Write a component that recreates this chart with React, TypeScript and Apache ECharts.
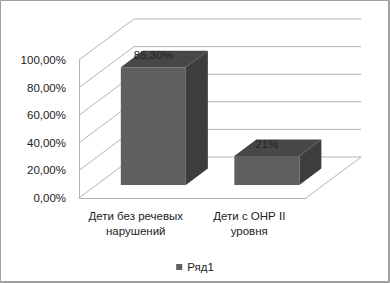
import React, { useEffect, useRef } from "react";
import * as echarts from "echarts";

const categories = ["Дети без речевых\nнарушений", "Дети с ОНР II\nуровня"];
const seriesName = "Ряд1";
const values = [0.853, 0.21];
const valueLabels = ["85,30%", "21%"];
const yTicks = [0, 0.2, 0.4, 0.6, 0.8, 1];

const FONT = "'Liberation Sans', Arial, sans-serif";
const DX = 55;
const DY = 41;
const F1 = 0.32;
const F2 = 0.72;
const GRID_COLOR = "#b3b3b3";

export default function App() {
  const ref = useRef<HTMLDivElement>(null);
  useEffect(() => {
    if (!ref.current) return;
    const chart = echarts.init(ref.current, null, { renderer: "svg" });
    chart.setOption({
      animation: false,
      backgroundColor: "#ffffff",
      textStyle: { fontFamily: FONT },
      grid: { left: 79, top: 60, width: 227, height: 138, containLabel: false },
      legend: {
        data: [seriesName],
        left: "center",
        top: 256,
        icon: "rect",
        itemWidth: 6,
        itemHeight: 6,
        itemGap: 6,
        textStyle: { fontFamily: FONT, fontSize: 11.5, color: "#222" },
      },
      graphic: [
        {
          type: "rect",
          shape: { x: 0.5, y: 0.5, width: 388, height: 281 },
          style: { fill: "none", stroke: "#a0a0a0", lineWidth: 1 },
          silent: true,
        },
        {
          type: "polyline",
          shape: { points: [[389.5, 0], [389.5, 282.5], [0, 282.5]] },
          style: { fill: "none", stroke: "#a0a0a0", lineWidth: 1 },
          silent: true,
        },
      ],
      xAxis: {
        type: "category",
        data: categories,
        axisLine: { show: true, lineStyle: { color: GRID_COLOR, width: 1 } },
        axisTick: { show: false },
        axisLabel: {
          margin: 10,
          fontFamily: FONT,
          fontSize: 11.5,
          lineHeight: 15,
          color: "#222",
          interval: 0,
        },
        splitLine: { show: false },
      },
      yAxis: {
        type: "value",
        min: 0,
        max: 1,
        interval: 0.2,
        axisLine: { show: true, lineStyle: { color: GRID_COLOR, width: 1 } },
        axisTick: { show: false },
        splitLine: { show: false },
        axisLabel: {
          margin: 13,
          fontFamily: FONT,
          fontSize: 11.5,
          color: "#222",
          formatter: (v: number) => (v * 100).toFixed(2).replace(".", ",") + "%",
        },
      },
      series: [
        {
          type: "custom",
          clip: false,
          silent: true,
          z: 1,
          data: yTicks.map((v) => [0, v]),
          encode: { x: 0, y: 1 },
          renderItem: (params: any, api: any) => {
            const cs = params.coordSys;
            const left = cs.x;
            const right = cs.x + cs.width;
            const v = api.value(1);
            const y = api.coord([0, v])[1];
            const style = { stroke: GRID_COLOR, lineWidth: 1, fill: "none" };
            const children: any[] = [
              {
                type: "line",
                shape: { x1: left, y1: y, x2: left + DX, y2: y - DY },
                style,
              },
              {
                type: "line",
                shape: { x1: left + DX, y1: y - DY, x2: right + DX, y2: y - DY },
                style,
              },
            ];
            if (v === 0) {
              children.push({
                type: "line",
                shape: { x1: right, y1: y, x2: right + DX, y2: y - DY },
                style,
              });
            }
            return { type: "group", children };
          },
        },
        {
          type: "custom",
          name: seriesName,
          clip: false,
          z: 2,
          itemStyle: { color: "#5f5f5f" },
          data: values.map((v, i) => [i, v]),
          encode: { x: 0, y: 1 },
          renderItem: (params: any, api: any) => {
            const idx = api.value(0);
            const val = api.value(1);
            const base = api.coord([idx, 0]);
            const top = api.coord([idx, val]);
            const bw = api.size([1, 0])[0];
            const w = bw * 0.573;
            const cx = base[0] + F1 * DX;
            const x0 = cx - w / 2;
            const x1 = cx + w / 2;
            const yBot = base[1] - F1 * DY;
            const yTop = top[1] - F1 * DY;
            const ddx = (F2 - F1) * DX;
            const ddy = (F2 - F1) * DY;
            return {
              type: "group",
              children: [
                {
                  type: "polygon",
                  shape: {
                    points: [
                      [x1, yTop],
                      [x1 + ddx, yTop - ddy],
                      [x1 + ddx, yBot - ddy],
                      [x1, yBot],
                    ],
                  },
                  style: { fill: "#3d3d3d" },
                },
                {
                  type: "polygon",
                  shape: {
                    points: [
                      [x0, yTop],
                      [x1, yTop],
                      [x1 + ddx, yTop - ddy],
                      [x0 + ddx, yTop - ddy],
                    ],
                  },
                  style: { fill: "#474747" },
                },
                {
                  type: "rect",
                  shape: { x: x0, y: yTop, width: w, height: yBot - yTop },
                  style: { fill: "#5f5f5f" },
                },
                {
                  type: "text",
                  x: cx,
                  y: yTop - 12,
                  style: {
                    text: valueLabels[idx],
                    fontFamily: FONT,
                    fontSize: 11.5,
                    fill: "#222",
                    align: "center",
                    verticalAlign: "middle",
                  },
                },
              ],
            };
          },
        },
      ],
    });
    return () => chart.dispose();
  }, []);
  return (
    <div
      ref={ref}
      style={{ position: "absolute", left: 0, top: 0, width: 390, height: 283, background: "#fff" }}
    />
  );
}
